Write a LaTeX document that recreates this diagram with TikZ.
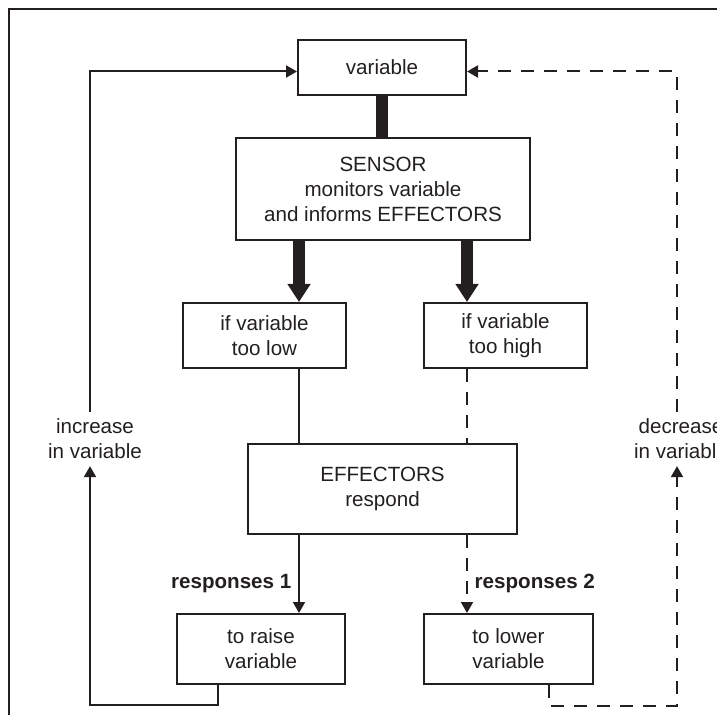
\documentclass[tikz,border=0pt]{standalone}
\usepackage{fontspec}
\setmainfont{Liberation Sans}
\usetikzlibrary{arrows.meta}
\definecolor{ink}{HTML}{231F20}
\newcommand{\boxfont}{\fontsize{10.3}{12.5}\selectfont}
\tikzset{
	box/.style = {draw=ink, line width=1pt, text=ink, align=center, inner sep=0pt, font=\boxfont},
	lbl/.style = {text=ink, align=center, font=\boxfont},
	fat/.style = {draw=ink, line width=6pt, -{Triangle[width=11pt,length=9pt]}},
	feed/.style = {draw=ink, line width=1pt},
	arr/.style = {-{Triangle[width=6pt,length=5.5pt]}},
	dashy/.style = {dash pattern=on 6.5pt off 5pt}
}
\begin{document}
\begin{tikzpicture}[x=0.5pt, y=-0.5pt]
		\useasboundingbox (0,0) rectangle (717,715);
		\clip (0,0) rectangle (717,715);
		\draw[ink, line width=1pt] (9,9) rectangle (760,760);

		\node[box, minimum width=84pt, minimum height=27.5pt] (var) at (382,67.5) {variable};
		\node[box, minimum width=147pt, minimum height=51pt] (sensor) at (383,189)
			{SENSOR\\monitors variable\\and informs EFFECTORS};
		\node[box, minimum width=81.5pt, minimum height=32.5pt] (low) at (264.5,335.5) {if variable\\too low};
		\node[box, minimum width=81.5pt, minimum height=32.5pt] (high) at (505.5,335.5) {if variable\\too high};
		\node[box, minimum width=134.5pt, minimum height=45pt] (eff) at (382.5,489) {EFFECTORS\\respond};
		\node[box, minimum width=84pt, minimum height=35pt] (raise) at (261,649) {to raise\\variable};
		\node[box, minimum width=84.5pt, minimum height=35pt] (lower) at (508.5,649) {to lower\\variable};
		\node[lbl] (inc) at (95,439) {increase\\in variable};
		\node[lbl] (dec) at (681,439) {decrease\\in variable};

		\coordinate (lx) at (299,0);
		\coordinate (rx) at (467,0);
		\coordinate (lft) at (90,705);
		\coordinate (rgt) at (677,706);

		\draw[draw=ink, line width=6pt] (var.south) -- (var.south |- sensor.north);
		\draw[fat] (sensor.south -| lx) -- (low.north -| lx);
		\draw[fat] (sensor.south -| rx) -- (high.north -| rx);
		\draw[feed] (low.south -| lx) -- (eff.north -| lx);
		\draw[feed, dashy] (high.south -| rx) -- (eff.north -| rx);
		\draw[feed, arr] (eff.south -| lx) -- node[lbl, pos=0.62, left, font=\boxfont\bfseries] {responses 1} (raise.north -| lx);
		\draw[feed, dashy, arr] (eff.south -| rx) -- node[lbl, pos=0.62, right, font=\boxfont\bfseries] {responses 2} (lower.north -| rx);

		\draw[feed, arr] ([xshift=-21.5pt]raise.south) |- (lft) -- (lft |- inc.south);
		\draw[feed, arr] (lft |- inc.north) |- ([yshift=-2pt]var.west);
		\draw[feed, dashy, arr] ([xshift=20.25pt]lower.south) |- (rgt) -- (rgt |- dec.south);
		\draw[feed, dashy, arr] (rgt |- dec.north) |- ([yshift=-2pt]var.east);
	\end{tikzpicture}
\end{document}
